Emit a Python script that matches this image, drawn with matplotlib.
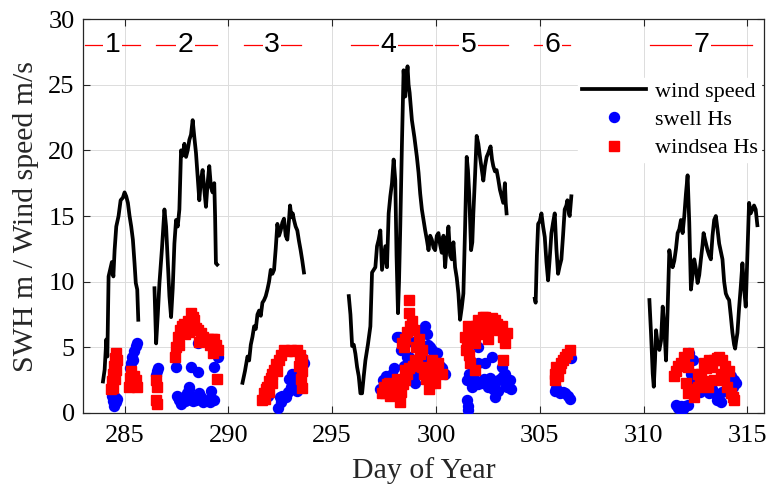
import numpy as np
import matplotlib.pyplot as plt

# wind speed segments (day of year, m/s)
wind1_day = [283.96, 284.04, 284.12, 284.17, 284.23, 284.33, 284.39, 284.46, 284.52, 284.6, 284.71, 284.81,
             284.92, 285.0, 285.08, 285.16, 285.24, 285.32, 285.4, 285.48, 285.54, 285.61, 285.66]
wind1_val = [2.4, 3.3, 5.6, 4.3, 10.4, 11.1, 11.5, 10.4, 12.4, 14.2, 15.0, 16.2,
             16.4, 16.8, 16.5, 16.0, 15.0, 14.2, 13.2, 11.4, 9.9, 9.4, 7.1]

wind2_day = [286.44, 286.52, 286.6, 286.68, 286.8, 286.92, 287.0, 287.08, 287.16, 287.24, 287.32, 287.4,
             287.48, 287.56, 287.64, 287.72, 287.8, 287.88, 287.96, 288.04, 288.12, 288.2, 288.28, 288.36,
             288.44, 288.52, 288.6, 288.68, 288.76, 288.84, 288.92, 289.0, 289.08, 289.16, 289.24, 289.32,
             289.36, 289.4, 289.46]
wind2_val = [9.5, 5.3, 7.5, 9.9, 12.5, 15.5, 14.2, 11.5, 8.9, 7.3, 9.5, 12.9,
             14.7, 14.2, 15.5, 20.0, 19.6, 20.5, 19.5, 20.0, 20.8, 21.2, 22.3, 21.0,
             19.8, 18.0, 16.2, 17.8, 18.5, 17.0, 15.7, 17.5, 18.8, 17.2, 16.8, 17.5,
             15.0, 11.4, 11.3]

wind3_day = [290.68, 290.8, 290.92, 291.0, 291.08, 291.16, 291.24, 291.32, 291.4, 291.48, 291.56, 291.64,
             291.72, 291.8, 291.88, 291.96, 292.04, 292.12, 292.2, 292.28, 292.36, 292.44, 292.52, 292.6,
             292.68, 292.76, 292.84, 292.92, 292.97, 293.04, 293.1, 293.16, 293.24, 293.32, 293.4, 293.48,
             293.56, 293.64]
wind3_val = [2.3, 3.2, 4.3, 4.0, 5.2, 5.8, 6.6, 6.4, 7.5, 7.8, 7.4, 8.4,
             8.6, 8.9, 9.4, 10.0, 10.9, 10.6, 10.9, 12.5, 14.4, 13.5, 13.9, 14.5,
             14.8, 13.5, 13.2, 14.7, 15.8, 14.9, 15.2, 14.7, 14.2, 13.9, 13.1, 12.4,
             11.6, 10.7]

wind4_day = [295.8, 295.88, 295.96, 296.04, 296.12, 296.2, 296.28, 296.36, 296.44, 296.52, 296.6, 296.72,
             296.84, 296.92, 297.0, 297.08, 297.16, 297.24, 297.32, 297.4, 297.48, 297.56, 297.64, 297.72,
             297.8, 297.88, 297.96, 298.04, 298.1, 298.17, 298.22, 298.28, 298.36, 298.44, 298.52, 298.58,
             298.63, 298.68, 298.73, 298.84, 298.96, 299.08, 299.16, 299.24, 299.32, 299.4, 299.48, 299.56,
             299.64, 299.72, 299.8, 299.88, 299.96, 300.04, 300.12, 300.2, 300.28, 300.36, 300.44, 300.52,
             300.6, 300.68, 300.76, 300.84, 300.92, 301.0, 301.08, 301.16, 301.24, 301.32, 301.4, 301.48,
             301.54, 301.6, 301.69, 301.75, 301.8, 301.88, 301.96, 302.04, 302.12, 302.2, 302.28, 302.36,
             302.44, 302.52, 302.63, 302.7, 302.76, 302.84, 302.92, 303.0, 303.08, 303.16, 303.24, 303.32,
             303.36, 303.4]
wind4_val = [8.9, 7.5, 5.1, 5.2, 4.5, 3.5, 2.8, 1.5, 1.5, 2.8, 4.0, 5.2,
             6.6, 10.7, 10.9, 11.1, 12.7, 13.2, 13.9, 10.9, 11.8, 12.7, 11.1, 15.2,
             16.5, 17.5, 19.3, 17.7, 12.0, 7.6, 10.0, 14.2, 20.5, 26.1, 24.1, 25.5,
             26.4, 25.0, 24.4, 22.3, 21.0, 19.5, 18.3, 16.7, 15.5, 14.7, 13.9, 13.2,
             12.4, 13.5, 13.2, 12.6, 12.4, 13.5, 13.7, 12.8, 12.2, 13.5, 11.1, 12.8,
             14.2, 12.0, 11.7, 13.0, 11.1, 10.3, 9.1, 7.1, 8.0, 9.1, 14.0, 19.5,
             18.5, 16.7, 12.4, 13.0, 15.2, 18.0, 21.1, 20.5, 19.5, 18.6, 17.7, 18.8,
             19.5, 19.8, 20.3, 19.3, 18.8, 18.4, 18.5, 17.8, 17.0, 16.5, 16.0, 17.5,
             16.0, 15.2]

wind6_day = [304.76, 304.8, 304.86, 304.92, 305.0, 305.08, 305.16, 305.24, 305.32, 305.4, 305.48, 305.56,
             305.64, 305.72, 305.8, 305.88, 305.96, 306.04, 306.12, 306.2, 306.28, 306.33, 306.4, 306.44,
             306.52]
wind6_val = [8.7, 8.4, 12.0, 14.4, 14.6, 15.2, 14.2, 13.4, 11.5, 10.1, 11.8, 13.7,
             14.5, 15.2, 12.5, 10.6, 11.2, 11.7, 13.5, 15.5, 15.8, 16.2, 15.2, 15.0,
             16.5]

wind7_day = [310.28, 310.36, 310.44, 310.49, 310.55, 310.6, 310.68, 310.76, 310.84, 310.92, 311.0, 311.08,
             311.16, 311.24, 311.32, 311.4, 311.48, 311.56, 311.64, 311.72, 311.8, 311.88, 311.96, 312.04,
             312.12, 312.2, 312.28, 312.36, 312.44, 312.52, 312.6, 312.68, 312.76, 312.84, 312.89, 312.96,
             313.08, 313.16, 313.24, 313.32, 313.4, 313.48, 313.56, 313.64, 313.72, 313.8, 313.88, 313.96,
             314.04, 314.12, 314.2, 314.28, 314.36, 314.41, 314.46, 314.52, 314.6, 314.68, 314.76, 314.84,
             314.92, 315.0, 315.08, 315.16, 315.24, 315.32, 315.4, 315.48]
wind7_val = [8.6, 6.0, 3.0, 2.0, 4.0, 6.3, 5.2, 4.8, 5.5, 8.1, 6.5, 4.0,
             8.0, 12.4, 11.5, 11.1, 11.6, 12.5, 13.7, 14.0, 14.7, 13.7, 15.0, 16.7,
             18.1, 14.5, 9.4, 10.5, 11.7, 11.0, 9.9, 10.5, 11.7, 12.8, 13.7, 13.2,
             12.4, 12.0, 11.7, 13.5, 14.7, 15.0, 14.0, 12.9, 12.3, 11.7, 10.0, 9.1,
             8.8, 8.6, 7.4, 6.1, 5.2, 4.9, 5.5, 6.1, 8.0, 9.6, 11.4, 9.5,
             8.1, 12.0, 16.0, 15.2, 15.5, 15.8, 15.5, 14.3]

# swell Hs (blue circles)
swell_day = [284.4, 284.45, 284.5, 284.55, 284.6, 284.65, 285.25, 285.3, 285.35, 285.45, 285.55, 285.62, 285.4,
             286.55, 286.6, 286.52, 287.48, 287.52, 287.6, 287.56, 287.8, 287.9, 288.0, 288.1, 288.12, 288.2,
             288.2, 288.3, 288.36, 288.45, 288.52, 288.52, 288.6, 288.7, 288.8, 289.0, 289.1, 289.16, 289.3,
             289.32, 289.48, 289.4, 288.0, 287.7,
             291.8, 291.9, 292.4, 292.52, 292.6, 292.76, 292.85, 293.0, 293.08, 293.15, 293.32, 293.4, 293.5,
             293.64, 293.55, 292.9, 292.5,
             297.3, 297.45, 297.6, 297.88, 298.0, 298.1, 298.2, 298.3, 298.45, 298.6, 298.68, 298.75, 298.99,
             299.1, 299.3, 299.48, 299.55, 299.6, 299.7, 299.8, 299.9, 300.04, 300.2, 300.3, 300.44, 299.35,
             299.15, 297.7, 298.8,
             301.48, 301.52, 301.55, 301.5, 301.6, 301.64, 301.72, 301.8, 301.88, 302.0, 302.04, 302.2, 302.3,
             302.36, 302.45, 302.52, 302.6, 302.68, 302.75, 302.84, 302.9, 303.0, 303.1, 303.16, 303.25,
             303.32, 303.32, 303.4, 302.0, 303.55, 303.6,
             305.72, 305.8, 305.96, 306.1, 306.2, 306.35, 306.44, 306.5,
             311.56, 311.65, 311.8, 311.9, 312.0, 312.12, 312.28, 312.36, 312.2, 312.45, 312.7, 313.0, 313.16,
             313.3, 313.4, 313.56, 313.72, 313.8, 314.04, 314.2, 314.36, 314.44, 314.3]
swell_val = [1.3, 0.9, 0.5, 1.2, 0.8, 1.1, 3.4, 3.8, 4.3, 4.7, 5.1, 5.3, 4.0,
             3.2, 3.4, 2.9, 3.5, 1.3, 1.0, 1.2, 1.0, 0.9, 1.5, 2.0, 1.8, 3.5,
             1.3, 0.9, 1.2, 1.0, 3.1, 5.3, 1.5, 1.2, 0.8, 1.0, 0.8, 1.7, 1.0,
             3.5, 4.3, 5.0, 1.0, 0.7,
             1.7, 1.3, 0.4, 0.8, 1.3, 1.2, 1.6, 2.0, 3.0, 2.5, 1.7, 2.2, 3.0,
             3.8, 4.2, 2.6, 1.2,
             1.8, 2.5, 2.8, 3.0, 3.4, 5.8, 5.8, 4.8, 3.6, 4.3, 4.3, 5.5, 2.3,
             5.2, 6.2, 6.6, 6.0, 5.2, 5.0, 4.8, 4.2, 4.6, 3.6, 3.4, 3.0, 4.2,
             3.0, 1.6, 2.8,
             1.0, 0.5, 0.2, 2.5, 3.0, 4.0, 2.0, 2.8, 2.5, 2.2, 3.8, 2.3, 2.6,
             3.8, 2.2, 2.0, 2.7, 4.3, 1.8, 1.2, 2.4, 1.7, 2.6, 3.5, 2.8,
             3.0, 2.3, 2.0, 5.0, 2.5, 1.8,
             1.7, 1.9, 1.5, 1.6, 1.5, 1.3, 1.1, 4.2,
             0.6, 0.4, 0.5, 0.3, 0.5, 0.6, 3.0, 4.0, 4.6, 2.6, 1.6, 1.8, 1.5,
             1.8, 1.5, 1.0, 0.8, 1.6, 3.3, 2.8, 2.5, 2.3, 2.0]

# windsea Hs (red squares)
windsea_day = [284.35, 284.4, 284.45, 284.5, 284.55, 284.6, 284.45, 284.52, 284.58, 284.63, 285.2, 285.25,
               285.3, 285.4, 285.45, 285.55, 285.6,
               286.5, 286.55, 286.5, 286.55, 287.45, 287.5, 287.55, 287.65, 287.75, 287.85, 287.95, 288.05,
               288.2, 288.3, 288.36, 288.45, 288.55, 288.68, 288.8, 288.9, 289.0, 289.1, 289.2, 289.32,
               289.4, 289.48, 289.45, 287.6, 287.9, 288.1, 288.6, 289.25,
               291.64, 291.7, 291.8, 291.88, 291.95, 292.05, 292.12, 292.2, 292.3, 292.44, 292.55, 292.68,
               292.8, 293.0, 293.15, 293.32, 293.45, 293.56, 293.56, 293.5, 293.56, 291.75, 291.95, 292.1,
               292.35, 293.4,
               297.4, 297.5, 297.56, 297.65, 297.72, 297.8, 297.9, 298.0, 298.1, 298.2, 298.28, 298.3,
               298.4, 298.52, 298.52, 298.6, 298.7, 298.36, 298.45, 298.52, 298.6, 298.68, 298.68, 298.76,
               298.85, 298.95, 298.99, 299.05, 299.16, 299.25, 299.32, 299.32, 299.4, 299.5, 299.64, 299.64,
               299.7, 299.85, 299.96, 300.05, 300.12, 300.28, 298.9, 299.1, 299.8,
               301.4, 301.45, 301.5, 301.56, 301.64, 301.7, 301.8, 301.88, 301.88, 301.95, 302.04, 302.15,
               302.25, 302.36, 302.36, 302.5, 302.6, 302.7, 302.84, 302.95, 303.05, 303.16, 303.25, 303.32,
               303.4, 303.24, 302.5, 302.05, 301.6,
               305.72, 305.72, 305.8, 305.88, 305.96, 306.04, 306.12, 306.2, 306.3, 306.44,
               311.48, 311.55, 311.65, 311.8, 311.96, 312.12, 312.12, 312.05, 312.12, 312.3, 312.44, 312.6,
               312.7, 312.76, 312.92, 313.0, 313.16, 313.3, 313.4, 313.55, 313.64, 313.8, 313.72, 313.88,
               314.04, 314.2, 314.3, 314.36, 313.4, 313.08, 312.9, 312.6, 314.1, 313.9]
windsea_val = [1.8, 2.4, 3.0, 3.6, 4.2, 4.6, 1.9, 2.6, 3.3, 4.0, 2.0, 2.7,
               3.2, 2.2, 2.8, 2.5, 2.0,
               2.5, 2.0, 1.0, 0.7, 4.3, 5.0, 5.8, 6.3, 6.6, 6.8, 6.5, 7.0,
               7.6, 7.3, 7.1, 6.5, 6.3, 6.1, 5.8, 5.5, 5.6, 5.2, 5.6, 5.6,
               5.2, 4.8, 2.6, 5.2, 6.0, 6.2, 5.4, 4.6,
               1.0, 1.5, 1.8, 2.0, 2.4, 2.7, 3.0, 3.3, 3.7, 4.0, 4.4, 4.8,
               4.7, 4.8, 4.7, 4.8, 4.4, 4.0, 3.2, 2.6, 1.9, 1.1, 1.6, 2.3,
               3.2, 3.6,
               1.5, 2.0, 1.5, 2.2, 2.3, 1.3, 1.8, 2.0, 2.6, 2.3, 0.8, 1.6,
               2.2, 2.5, 3.3, 3.0, 3.4, 5.3, 5.0, 5.6, 6.2, 7.6, 8.6, 6.6,
               7.0, 6.3, 4.0, 5.0, 5.6, 4.5, 4.8, 3.5, 3.0, 2.6, 3.3, 1.8,
               2.3, 3.1, 2.3, 3.4, 3.8, 3.0, 3.6, 3.9, 4.0,
               5.8, 4.8, 5.2, 6.6, 3.8, 5.5, 6.2, 5.3, 3.3, 6.6, 7.1, 6.8,
               7.3, 7.3, 6.1, 7.0, 6.5, 7.2, 7.1, 6.8, 6.3, 6.6, 5.8, 5.3,
               6.1, 4.0, 5.6, 6.0, 4.4,
               2.5, 3.0, 3.5, 2.8, 3.4, 3.8, 4.0, 4.3, 4.5, 4.8,
               2.8, 3.2, 3.6, 3.8, 4.3, 4.6, 3.5, 2.3, 1.5, 1.8, 1.2, 2.0,
               2.6, 3.0, 3.8, 3.4, 4.0, 3.5, 4.0, 4.2, 4.3, 4.0, 3.0, 2.5,
               2.0, 1.5, 1.2, 1.0, 2.5, 2.0, 2.4, 3.0, 3.2, 3.6]

# event periods
period_labels = ['1', '2', '3', '4', '5', '6', '7']
period_start = [283.08, 286.49, 290.76, 295.9, 299.93, 304.73, 310.3]
period_end = [285.72, 289.46, 293.5, 299.79, 303.48, 306.46, 315.24]
period_text_x = [284.42, 287.93, 292.1, 297.72, 301.56, 305.6, 312.8]

plt.rcParams['font.family'] = ['Liberation Serif', 'DejaVu Serif']

fig = plt.figure(figsize=(7.69, 4.88), dpi=100)
ax = fig.add_axes([0.108, 0.1537, 0.8855, 0.8073])

wind_day = []
wind_val = []
for d, v in [(wind1_day, wind1_val), (wind2_day, wind2_val), (wind3_day, wind3_val),
             (wind4_day, wind4_val), (wind6_day, wind6_val), (wind7_day, wind7_val)]:
    wind_day += list(d) + [np.nan]
    wind_val += list(v) + [np.nan]

ax.plot(wind_day, wind_val, color='black', lw=2.7, label='wind speed', zorder=3)
ax.plot(swell_day, swell_val, 'o', color='#0000ff', ms=7.2, mec='#0000ff', label='swell Hs', zorder=4)
ax.plot(windsea_day, windsea_val, 's', color='#ff0000', ms=7, mec='#ff0000', label='windsea Hs', zorder=5)

for lab, s, e, tx in zip(period_labels, period_start, period_end, period_text_x):
    ax.plot([s, e], [28, 28], color='red', lw=0.9, zorder=2)
    ax.text(tx, 28, lab, ha='center', va='center', fontsize=20.5, family='Liberation Sans',
            bbox=dict(facecolor='white', edgecolor='none', pad=1.0), zorder=6)

ax.set_xlim(283, 315.8)
ax.set_ylim(0, 30)
ax.set_xticks([285, 290, 295, 300, 305, 310, 315])
ax.set_yticks([0, 5, 10, 15, 20, 25, 30])
ax.grid(True, color='#dcdcdc', lw=0.7)
ax.set_axisbelow(True)
ax.tick_params(direction='in', top=True, right=True, labelsize=19, length=5, color='#262626')
ax.tick_params(axis='x', pad=9)
ax.tick_params(axis='y', pad=6)
for sp in ax.spines.values():
    sp.set_color('#262626')
    sp.set_linewidth(0.9)

ax.set_xlabel('Day of Year', fontsize=21.5, color='#262626', labelpad=7)
ax.set_ylabel('SWH m / Wind speed m/s', fontsize=21.5, color='#262626', labelpad=7)

leg = ax.legend(loc='upper right', bbox_to_anchor=(1.012, 0.878), fontsize=16, frameon=True,
                fancybox=False, edgecolor='white', framealpha=1, handlelength=2.9,
                handletextpad=0.4, borderpad=0.15, labelspacing=0.34)
leg.set_zorder(7)

fig.savefig('out.png', dpi=100)
